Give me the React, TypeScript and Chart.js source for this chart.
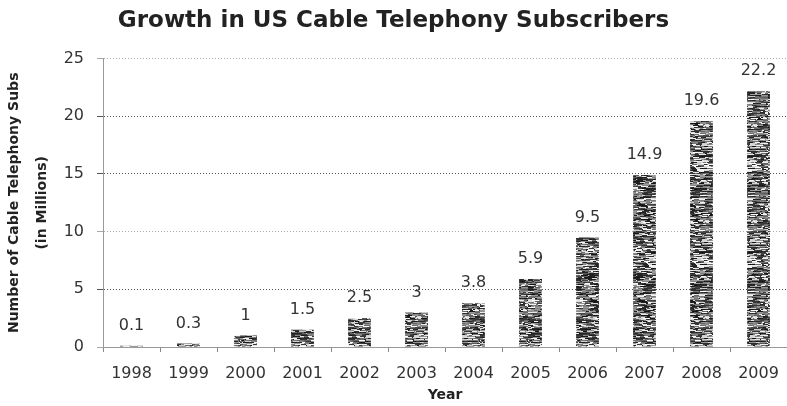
import React, { useEffect, useRef } from "react";
import { Chart, registerables } from "chart.js";

Chart.register(...registerables);

const years = ["1998", "1999", "2000", "2001", "2002", "2003", "2004", "2005", "2006", "2007", "2008", "2009"];
const subscribers = [0.1, 0.3, 1, 1.5, 2.5, 3, 3.8, 5.9, 9.5, 14.9, 19.6, 22.2];
const valueLabels = ["0.1", "0.3", "1", "1.5", "2.5", "3", "3.8", "5.9", "9.5", "14.9", "19.6", "22.2"];
const darkGridValues = [5, 15, 20];
const titleText = "Growth in US Cable Telephony Subscribers";
const yTitle = ["Number of Cable Telephony Subs", "(in Millions)"];
const xTitle = "Year";

function makePattern(): CanvasPattern | string {
  const c = document.createElement("canvas");
  c.width = 48;
  c.height = 96;
  const ctx = c.getContext("2d");
  if (!ctx) return "#555";
  let s = 12345;
  const rnd = () => {
    s = (s * 1103515245 + 12345) & 0x7fffffff;
    return s / 0x7fffffff;
  };
  ctx.fillStyle = "#ffffff";
  ctx.fillRect(0, 0, c.width, c.height);
  for (let y = 0; y < c.height; y++) {
    let x = 0;
    while (x < c.width) {
      const len = 1 + Math.floor(rnd() * 7);
      const r = rnd();
      const g = r < 0.4 ? 20 + rnd() * 50 : r < 0.75 ? 90 + rnd() * 70 : 200 + rnd() * 55;
      const v = Math.round(g);
      ctx.fillStyle = `rgb(${v},${v},${v})`;
      ctx.fillRect(x, y, len, 1);
      x += len;
    }
  }
  const p = ctx.createPattern(c, "repeat");
  return p || "#555";
}

const labelPlugin = {
  id: "valueLabels",
  afterDatasetsDraw(chart: any) {
    const ctx = chart.ctx;
    const meta = chart.getDatasetMeta(0);
    ctx.save();
    ctx.font = "16px 'DejaVu Sans'";
    ctx.fillStyle = "#333";
    ctx.textAlign = "center";
    ctx.textBaseline = "middle";
    meta.data.forEach((el: any, i: number) => {
      ctx.fillText(valueLabels[i], el.x, el.y - 20);
    });
    ctx.restore();
  },
};

export default function App() {
  const ref = useRef<HTMLCanvasElement>(null);
  useEffect(() => {
    document.body.style.margin = "0";
    if (!ref.current) return;
    const chart = new Chart(ref.current, {
      type: "bar",
      data: {
        labels: years,
        datasets: [
          {
            data: subscribers,
            backgroundColor: makePattern() as any,
            barPercentage: 0.4,
            categoryPercentage: 1,
          },
        ],
      },
      options: {
        animation: false,
        responsive: false,
        layout: { padding: { left: 0, right: 0, top: 7, bottom: 2 } },
        plugins: {
          legend: { display: false },
          tooltip: { enabled: false },
          title: {
            display: true,
            text: titleText,
            color: "#222",
            font: { family: "'DejaVu Sans'", size: 23, weight: "bold" },
            padding: { top: 0, bottom: 24 },
          },
        },
        scales: {
          x: {
            afterFit: (s: any) => {
              s.height = 57;
              s.paddingLeft = 0;
              s.paddingRight = 0;
            },
            grid: { display: true, drawOnChartArea: false, drawTicks: true, tickLength: 5, color: "#888", offset: true },
            border: { display: true, color: "#999" },
            ticks: { color: "#333", font: { family: "'DejaVu Sans'", size: 16 }, padding: 12 },
            title: {
              display: true,
              text: xTitle,
              color: "#222",
              font: { family: "'DejaVu Sans'", size: 14, weight: "bold" },
              padding: { top: 0, bottom: 0 },
            },
          },
          y: {
            min: 0,
            max: 25,
            afterFit: (s: any) => {
              s.width = 103;
            },
            ticks: { stepSize: 5, color: "#333", font: { family: "'DejaVu Sans'", size: 16 }, padding: 13 },
            grid: {
              color: (c: any) => (c.tick && darkGridValues.includes(c.tick.value) ? "#555" : "#aaa"),
              tickLength: 6,
            },
            border: { display: true, color: "#999", dash: [1, 2] },
            title: {
              display: true,
              text: yTitle,
              color: "#222",
              font: { family: "'DejaVu Sans'", size: 14, weight: "bold", lineHeight: 2 },
              padding: { top: 0, bottom: 0 },
            },
          },
        },
      } as any,
      plugins: [labelPlugin],
    });
    return () => chart.destroy();
  }, []);
  return (
    <div style={{ position: "absolute", left: 0, top: 0, width: 787, height: 406, background: "#fff" }}>
      <canvas ref={ref} width={787} height={406} style={{ width: 787, height: 406 }} />
    </div>
  );
}
